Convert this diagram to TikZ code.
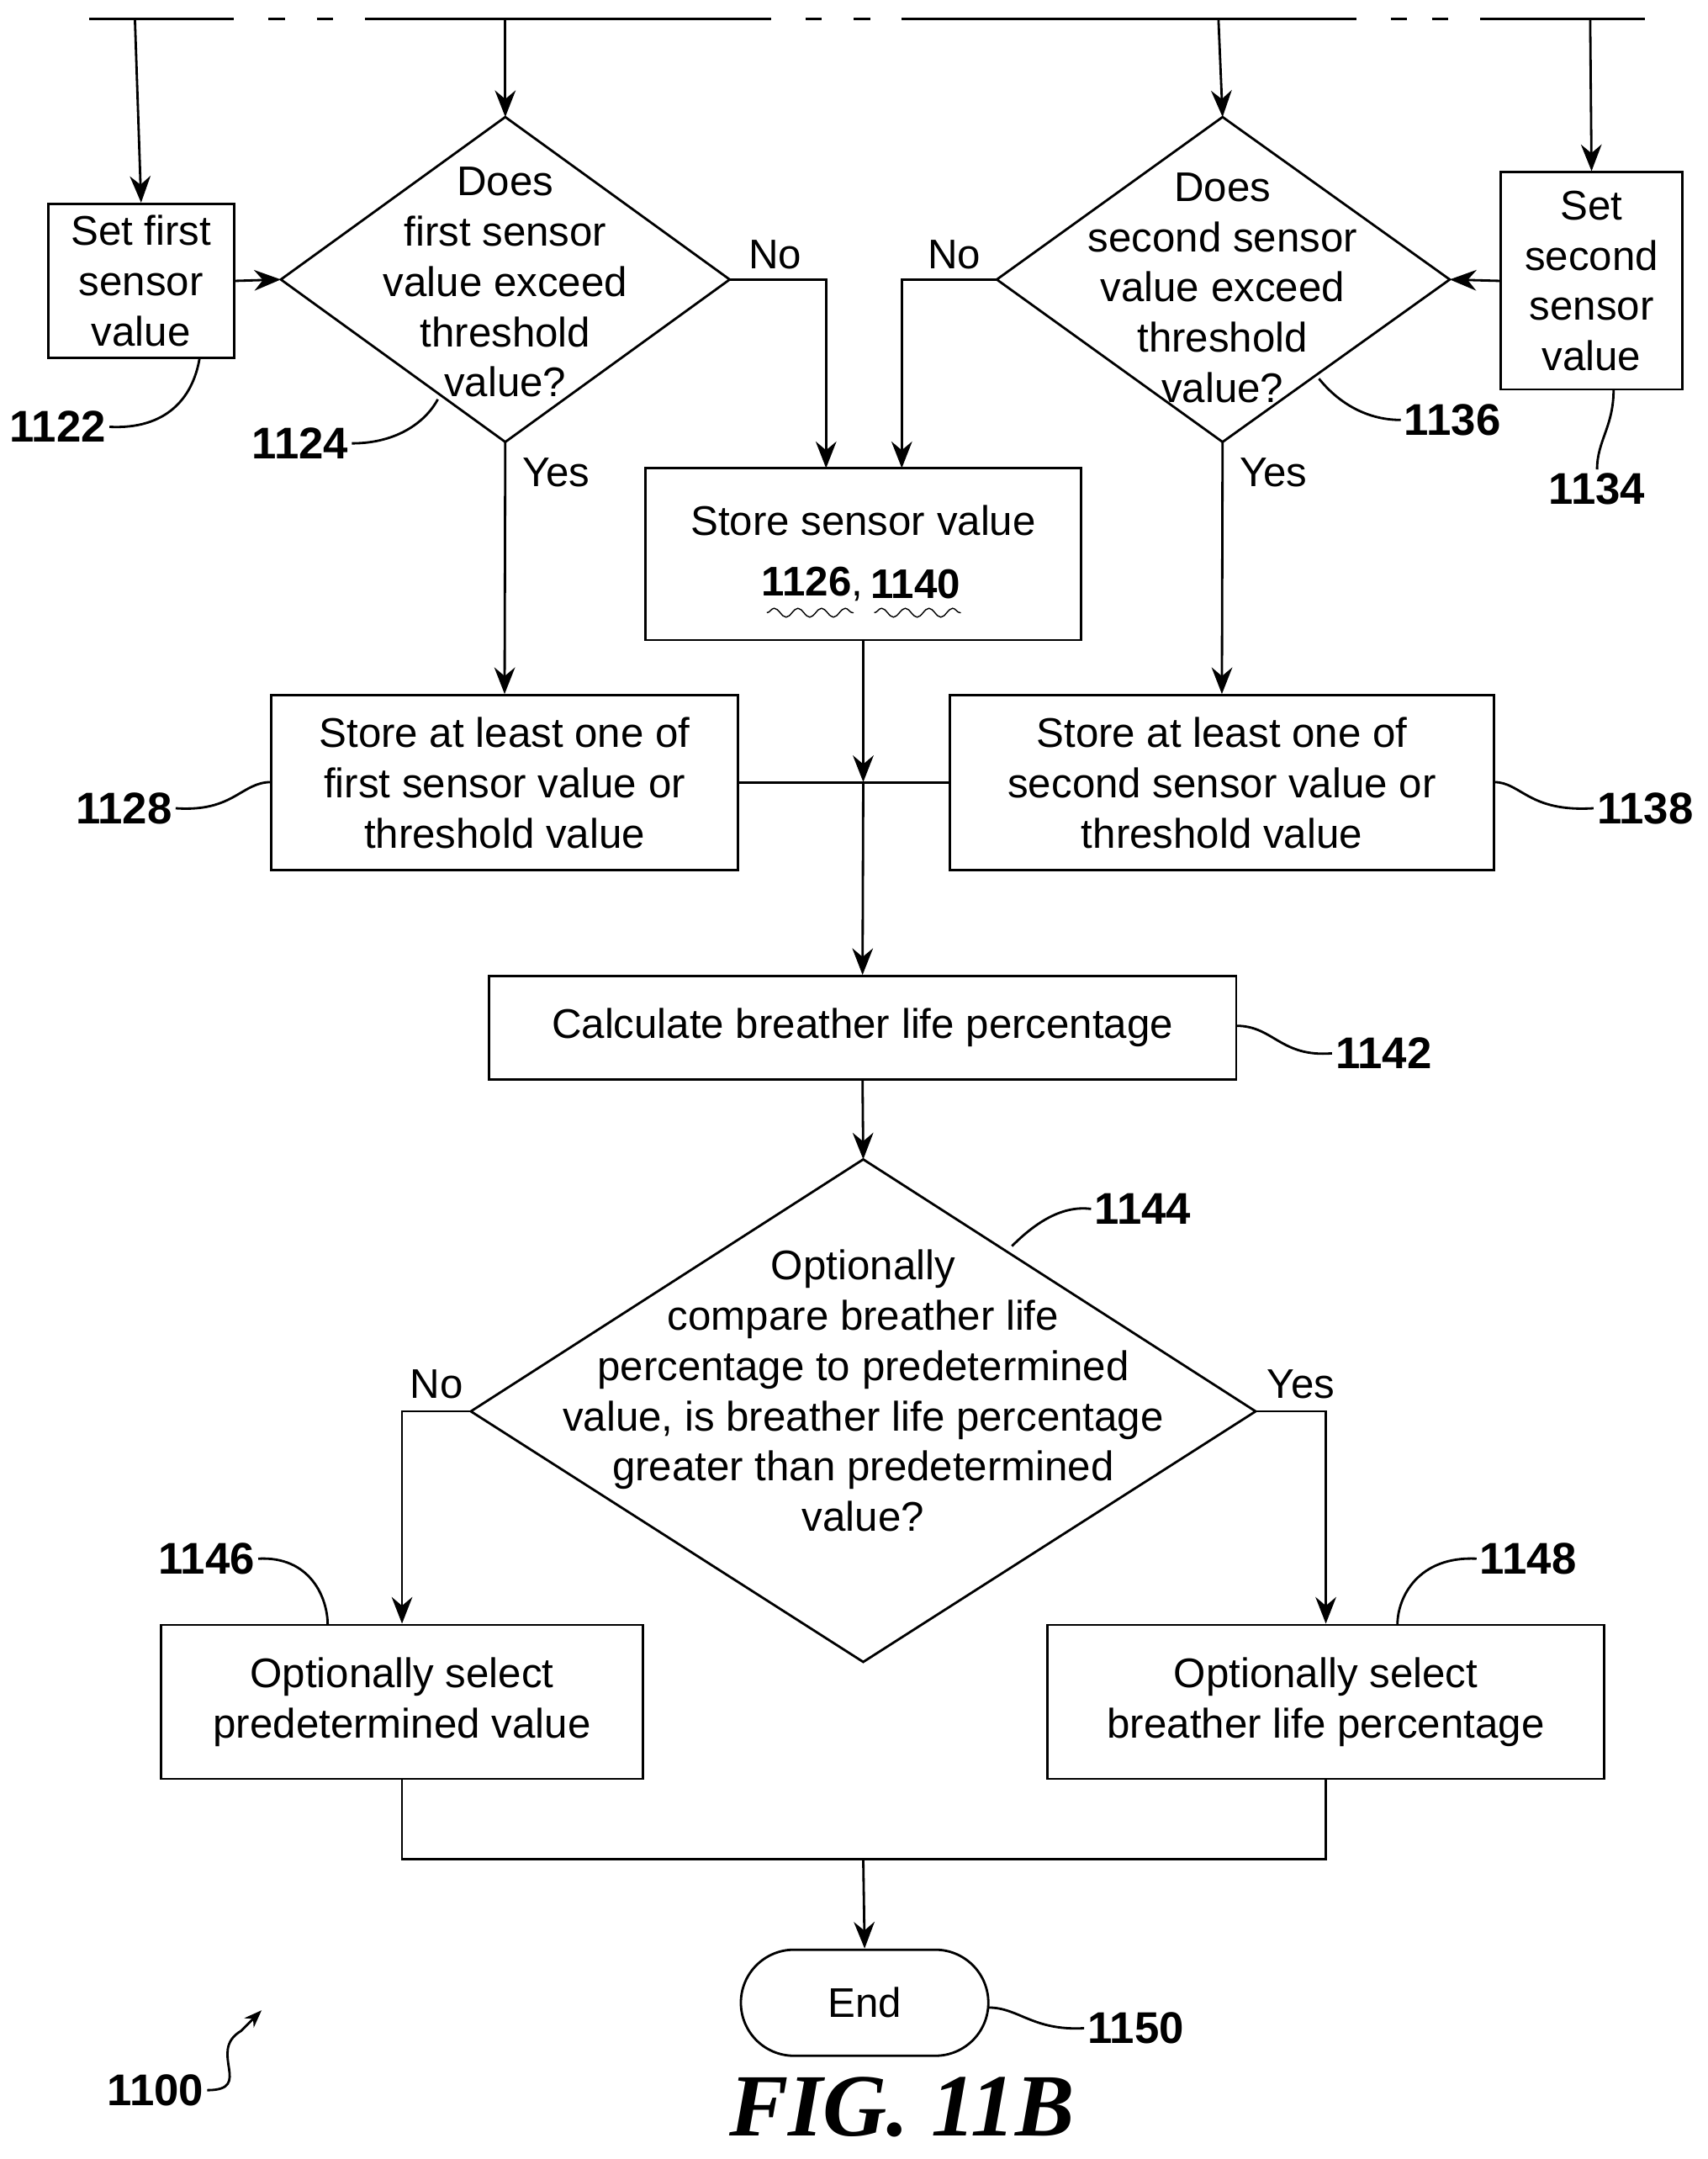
\documentclass[tikz,border=0pt]{standalone}
\usepackage{fontspec}
\setmainfont{Liberation Sans}
\usetikzlibrary{positioning,arrows.meta,decorations.pathmorphing}
\tikzset{
  box/.style={draw,thick,rectangle,align=center,inner sep=2pt},
  txt/.style={align=center,inner sep=0pt},
  flow/.style={thick,-{Stealth[length=9pt,width=7pt]}},
  lead/.style={thick},
  num/.style={font=\fontsize{15}{17}\selectfont\bfseries,inner sep=1pt},
  ans/.style={inner sep=1pt}
}
\begin{document}
\begin{tikzpicture}[x=0.01635cm,y=-0.01635cm,font=\fontsize{14}{17}\selectfont]
\useasboundingbox (0,0) rectangle (1240,1568);
% top bus
\foreach \a/\b in {65/170,195/207,230/242,265/560,585/597,620/632,655/985,1010/1022,1040/1052,1075/1195}
  \draw[thick] (\a,14) -- (\b,14);
\coordinate (t1) at (98,14);
\coordinate (t2) at (367,14);
\coordinate (t3) at (885,14);
\coordinate (t4) at (1155,14);

% boxes
\node[box,minimum width=2.21cm,minimum height=1.83cm] (set1) at (102.5,204) {Set first\\sensor\\value};
\node[box,minimum width=2.16cm,minimum height=2.58cm] (set2) at (1156,204) {Set\\second\\sensor\\value};
\node[box,minimum width=5.17cm,minimum height=2.04cm] (store) at (627,402.5) {};
\node[txt] (storet) at (627,378) {Store sensor value};
\node[txt] (n1126) at (590,424) {\textbf{1126},};
\node[txt] (n1140) at (665,424) {\textbf{1140}};
\draw[decorate,decoration={snake,amplitude=1.5pt,segment length=8pt}] (557,445) -- (620,445);
\draw[decorate,decoration={snake,amplitude=1.5pt,segment length=8pt}] (635,445) -- (698,445);
\node[box,minimum width=5.54cm,minimum height=2.08cm] (st1) at (366.5,568.5) {Store at least one of\\first sensor value or\\threshold value};
\node[box,minimum width=6.46cm,minimum height=2.08cm] (st2) at (887.5,568.5) {Store at least one of\\second sensor value or\\threshold value};
\node[box,minimum width=8.88cm,minimum height=1.23cm] (calc) at (626.5,746.5) {Calculate breather life percentage};
\node[box,minimum width=5.72cm,minimum height=1.83cm] (opt1) at (292,1236) {Optionally select\\predetermined value};
\node[box,minimum width=6.61cm,minimum height=1.83cm] (opt2) at (963,1236) {Optionally select\\breather life percentage};
\node[box,rounded corners=0.63cm,minimum width=2.94cm,minimum height=1.26cm] (end) at (628,1454.5) {End};

% diamonds
\coordinate (d1t) at (367,85); \coordinate (d1b) at (367,321);
\coordinate (d1l) at (204,203); \coordinate (d1r) at (530,203);
\draw[thick] (d1t) -- (d1r) -- (d1b) -- (d1l) -- cycle;
\node[txt] (d1) at (367,205) {Does\\first sensor\\value exceed\\threshold\\value?};
\coordinate (d2t) at (888,85); \coordinate (d2b) at (888,321);
\coordinate (d2l) at (724,203); \coordinate (d2r) at (1053,203);
\draw[thick] (d2t) -- (d2r) -- (d2b) -- (d2l) -- cycle;
\node[txt] (d2) at (888,209) {Does\\second sensor\\value exceed\\threshold\\value?};
\coordinate (d3t) at (627,842); \coordinate (d3b) at (627,1207);
\coordinate (d3l) at (342,1025); \coordinate (d3r) at (912,1025);
\draw[thick] (d3t) -- (d3r) -- (d3b) -- (d3l) -- cycle;
\node[txt] (d3) at (627,1010) {Optionally\\compare breather life\\percentage to predetermined\\value, is breather life percentage\\greater than predetermined\\value?};

% connectors
\draw[flow] (t1) -- (set1.north);
\draw[flow] (t2) -- (d1t);
\draw[flow] (t3) -- (d2t);
\draw[flow] (t4) -- (set2.north);
\draw[flow] (set1.east) -- (d1l);
\draw[flow] (set2.west) -- (d2r);
\draw[flow] (d1r) -| (600,340);
\draw[flow] (d2l) -| (655,340);
\node[ans] (no1) at (563,185) {No};
\node[ans] (no2) at (693,185) {No};
\draw[flow] (d1b) -- (st1.north);
\draw[flow] (d2b) -- (st2.north);
\node[ans] (yes1) at (404,343) {Yes};
\node[ans] (yes2) at (925,343) {Yes};
\coordinate (j1) at (627,568);
\draw[flow] (store.south) -- (j1);
\draw[thick] (st1.east) -- (st2.west);
\draw[flow] (j1) -- (calc.north);
\draw[flow] (calc.south) -- (d3t);
\draw[flow] (d3l) -| (opt1.north);
\draw[flow] (d3r) -| (opt2.north);
\node[ans] (no3) at (317,1005) {No};
\node[ans] (yes3) at (945,1005) {Yes};
\coordinate (j2) at (627,1350);
\draw[thick] (opt1.south) |- (j2) -| (opt2.south);
\draw[flow] (j2) -- (end.north);

% reference numerals
\node[num] (l1122) at (42,310) {1122};
\draw[lead] (l1122.east) .. controls (120,312) and (140,290) .. (145,260);
\node[num] (l1124) at (218,322) {1124};
\draw[lead] (l1124.east) .. controls (290,322) and (310,305) .. (318,290);
\node[num] (l1136) at (1055,305) {1136};
\draw[lead] (l1136.west) .. controls (990,305) and (970,290) .. (958,275);
\node[num] (l1134) at (1160,355) {1134};
\draw[lead] (l1134.north) .. controls (1160,320) and (1172,310) .. (1172,283);
\node[num] (l1128) at (90,587) {1128};
\draw[lead] (l1128.east) .. controls (170,590) and (175,568) .. (197,568);
\node[num] (l1138) at (1195,587) {1138};
\draw[lead] (l1138.west) .. controls (1110,590) and (1105,568) .. (1085,568);
\node[num] (l1142) at (1005,765) {1142};
\draw[lead] (l1142.west) .. controls (930,768) and (925,745) .. (898,745);
\node[num] (l1144) at (830,878) {1144};
\draw[lead] (l1144.west) .. controls (770,875) and (750,890) .. (735,905);
\node[num] (l1146) at (150,1132) {1146};
\draw[lead] (l1146.east) .. controls (225,1130) and (238,1160) .. (238,1180);
\node[num] (l1148) at (1110,1132) {1148};
\draw[lead] (l1148.west) .. controls (1030,1130) and (1015,1160) .. (1015,1180);
\node[num] (l1150) at (825,1473) {1150};
\draw[lead] (l1150.west) .. controls (750,1475) and (740,1458) .. (718,1458);
\node[num] (l1100) at (113,1518) {1100};
\draw[lead,-{Stealth[length=6pt]}] (l1100.east) .. controls (185,1518) and (150,1490) .. (175,1475) -- (190,1460);
\node[font=\fontsize{30}{32}\selectfont\bfseries\itshape] (fig) at (655,1530) {\fontspec{Liberation Serif}FIG. 11B};
\end{tikzpicture}
\end{document}
